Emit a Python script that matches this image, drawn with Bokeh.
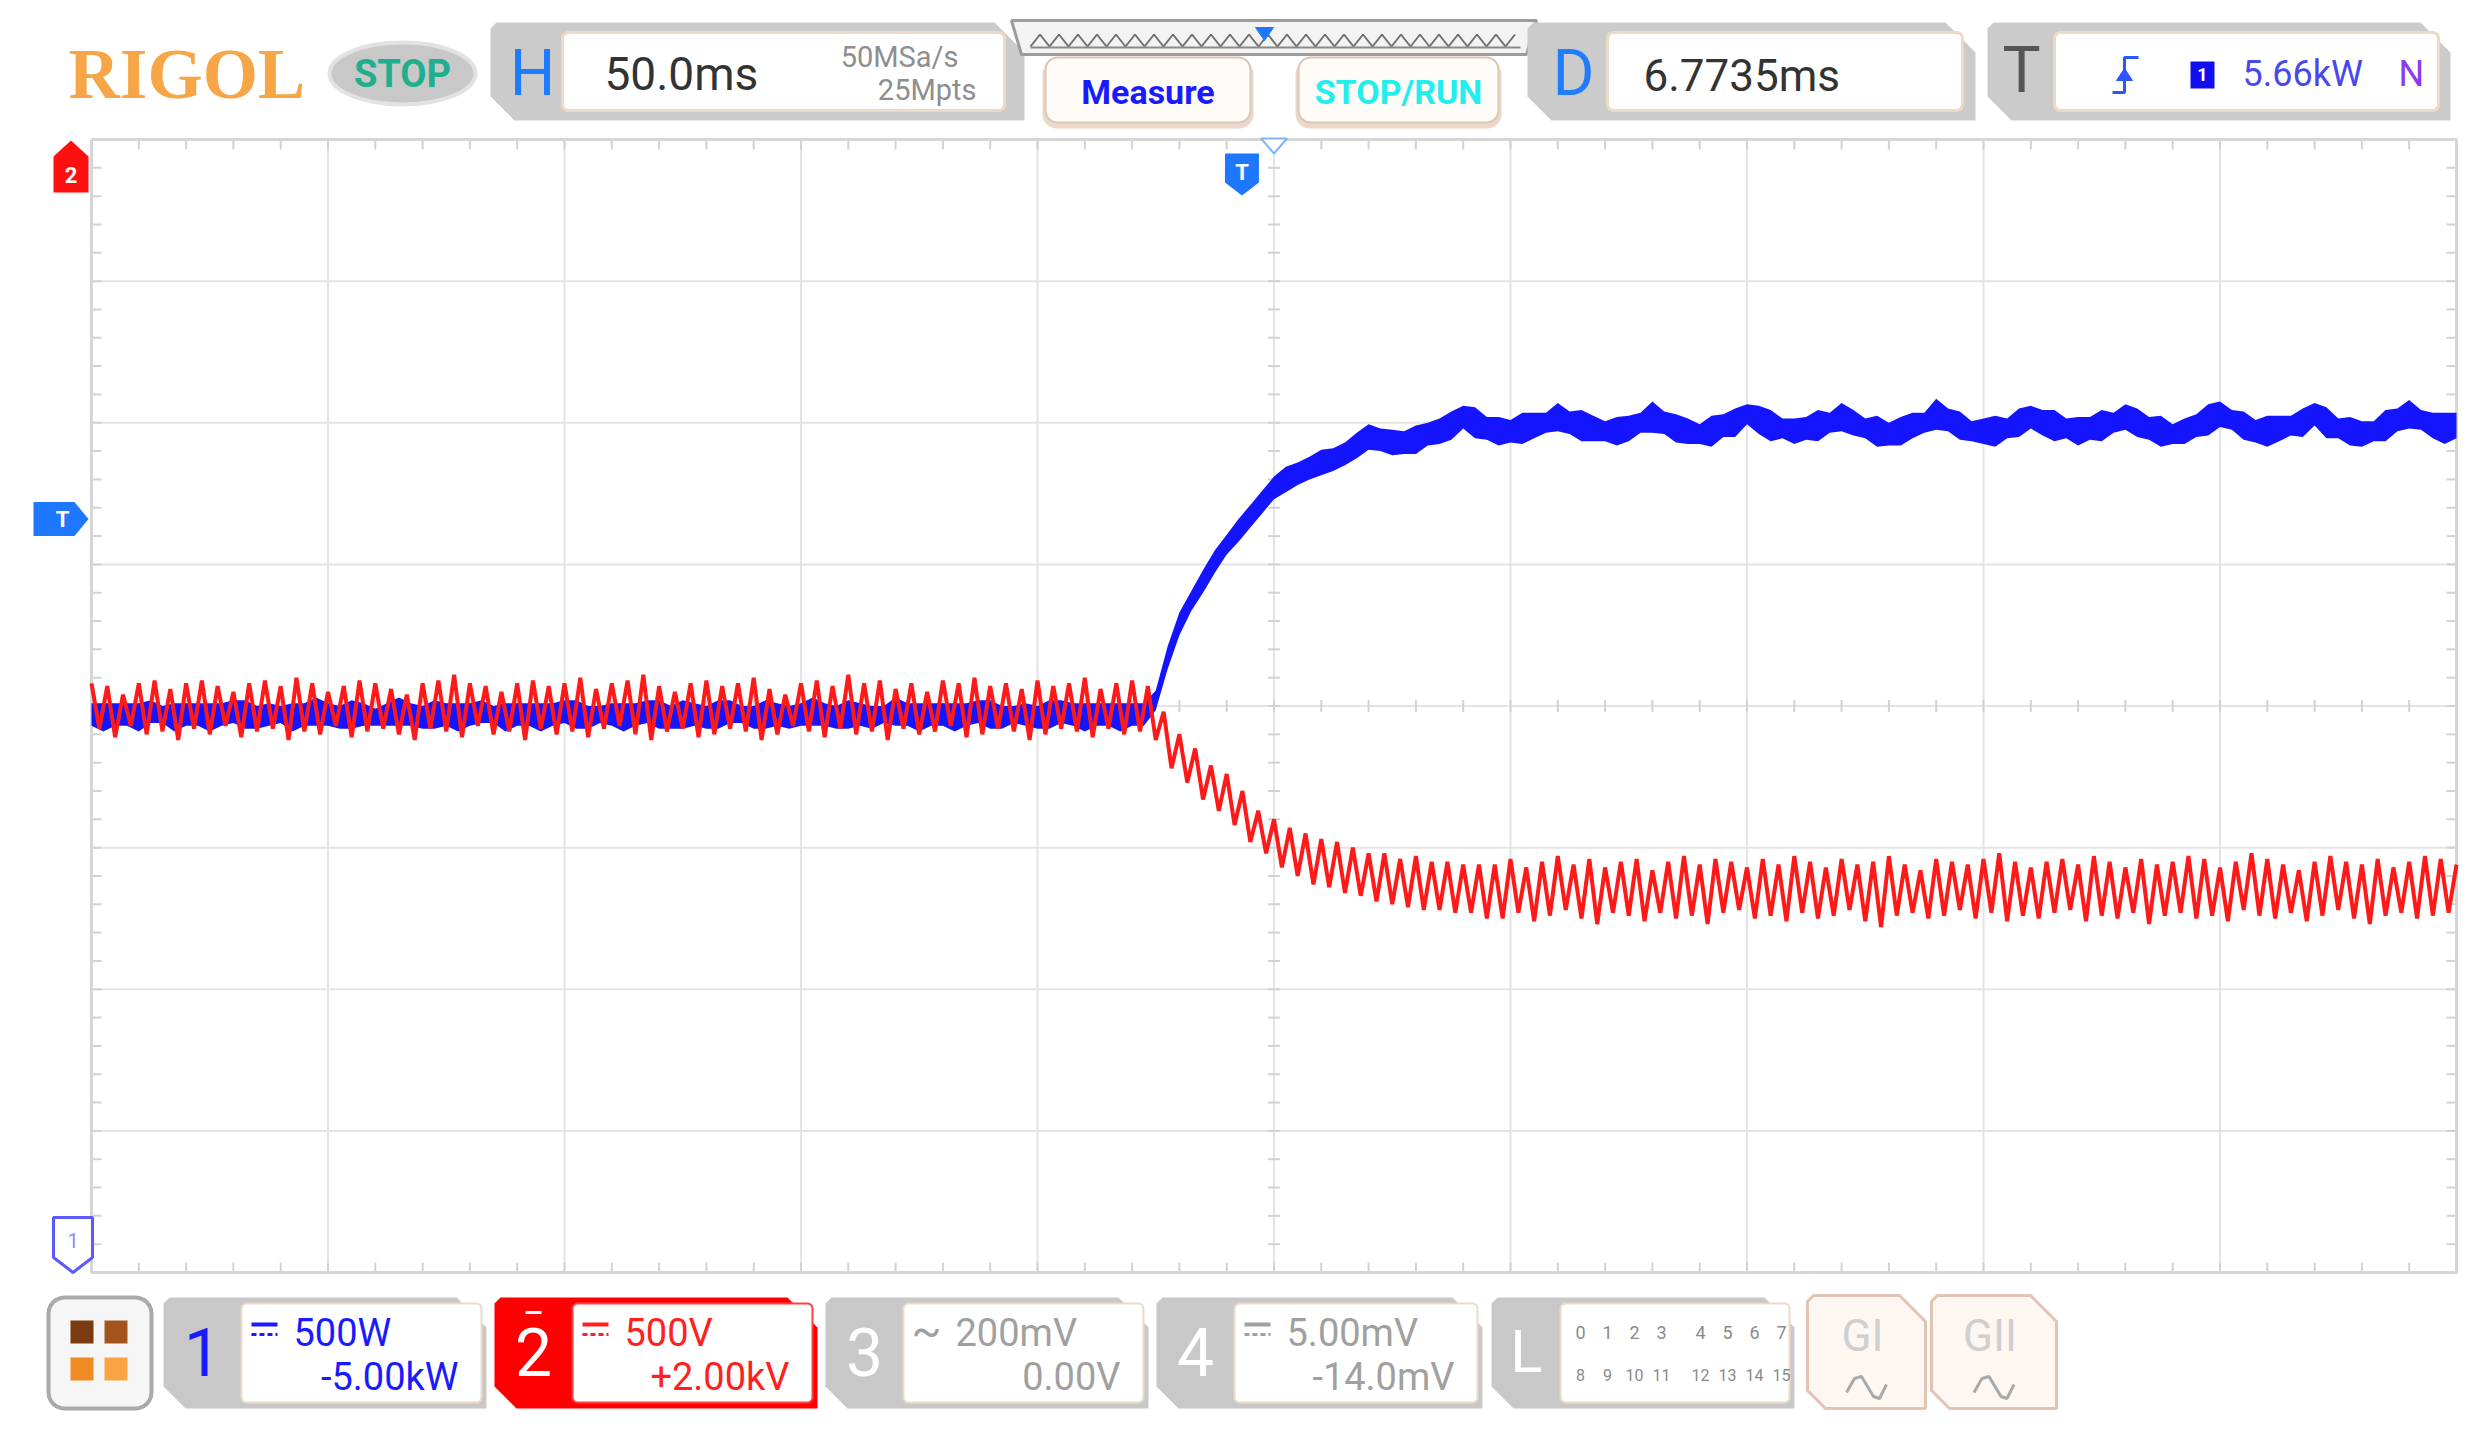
import numpy as np
from bokeh.plotting import figure
from bokeh.models import Range1d
from bokeh.core.properties import value
from bokeh.embed import file_html
from bokeh.resources import INLINE

# ---------------- instrument settings ----------------
time_per_div_ms = 50.0
h_divs = 10
v_divs = 8
delay_ms = 6.7735
ch1_scale_kw = 0.5        # 500 W/div
ch1_offset_kw = -5.00
ch2_scale_kv = 0.5        # 500 V/div, channel inverted
ch2_offset_kv = 2.00
trigger_level_kw = 5.66

# ---------------- channel 1 (blue): power in kW, sampled every 2.5 ms ----------------
blue_step_ms = 2.5
blue_mid_pre = [
    4.97, 4.96, 4.97, 4.97, 4.96, 4.98, 4.97, 4.96, 4.97, 4.97,
    4.96, 4.97, 4.98, 4.97, 4.96, 4.97, 4.97, 4.96, 4.97, 4.98,
    4.97, 4.96, 4.97, 4.97, 4.96, 4.97, 4.98, 4.97, 4.96, 4.97,
    4.97, 4.96, 4.97, 4.98, 4.97, 4.96, 4.97, 4.97, 4.96, 4.97,
    4.98, 4.97, 4.96, 4.97, 4.97, 4.96, 4.97, 4.98, 4.97, 4.96,
    4.97, 4.97, 4.96, 4.97, 4.98, 4.97, 4.96, 4.97, 4.97, 4.96,
    4.97, 4.98, 4.97, 4.96, 4.97, 4.97, 4.96, 4.97, 4.98, 4.97,
    4.96, 4.97, 4.97, 4.96, 4.97, 4.98, 4.97, 4.96, 4.97, 4.97,
    4.96, 4.97, 4.98, 4.97, 4.96, 4.97, 4.97, 4.96, 4.97, 4.97]
blue_mid_post = [
    5.02, 5.17, 5.29, 5.37, 5.44, 5.51, 5.57, 5.62, 5.67, 5.72,
    5.77, 5.80, 5.82, 5.84, 5.86, 5.87, 5.89, 5.92, 5.95, 5.94,
    5.93, 5.93, 5.94, 5.96, 5.97, 5.99,
    6.02, 6.00, 5.98, 5.97, 5.97, 5.98, 5.99, 6.00,
    6.02, 6.00, 5.99, 5.98, 5.97, 5.97, 5.98, 6.00,
    6.02, 6.00, 5.98, 5.97, 5.96, 5.97, 5.99, 6.00,
    6.03, 6.01, 5.99, 5.98, 5.97, 5.98, 5.99, 6.00,
    6.02, 6.00, 5.98, 5.97, 5.96, 5.97, 5.99, 6.00,
    6.03, 6.01, 5.99, 5.97, 5.97, 5.97, 5.98, 6.00,
    6.02, 6.00, 5.99, 5.98, 5.97, 5.98, 5.99, 6.00,
    6.02, 6.00, 5.98, 5.97, 5.96, 5.97, 5.99, 6.01,
    6.03, 6.01, 5.99, 5.97, 5.97, 5.98, 5.99, 6.00,
    6.03, 6.00, 5.98, 5.97, 5.96, 5.97, 5.99, 6.01,
    6.03, 6.01, 5.99, 5.98, 5.99]
blue_hw_pre = [
    0.04, 0.05, 0.04, 0.04, 0.05, 0.04, 0.03, 0.05, 0.04, 0.04,
    0.05, 0.04, 0.04, 0.05, 0.04, 0.04, 0.03, 0.05, 0.04, 0.05,
    0.04, 0.04, 0.05, 0.04, 0.03, 0.04, 0.05, 0.04, 0.04, 0.05,
    0.04, 0.05, 0.04, 0.04, 0.03, 0.05, 0.04, 0.04, 0.05, 0.04,
    0.04, 0.05, 0.04, 0.03, 0.04, 0.05, 0.04, 0.04, 0.05, 0.04,
    0.05, 0.04, 0.04, 0.05, 0.04, 0.03, 0.04, 0.05, 0.04, 0.04,
    0.04, 0.05, 0.04, 0.04, 0.05, 0.04, 0.04, 0.03, 0.05, 0.04,
    0.05, 0.04, 0.04, 0.05, 0.04, 0.04, 0.05, 0.04, 0.03, 0.04,
    0.04, 0.05, 0.04, 0.04, 0.05, 0.04, 0.04, 0.05, 0.04, 0.04]
blue_hw_post = [
    0.035, 0.04, 0.04, 0.035, 0.04, 0.04, 0.035, 0.04, 0.04, 0.04,
    0.04, 0.045, 0.04, 0.04, 0.045, 0.04, 0.04, 0.045, 0.045, 0.04,
    0.045, 0.04, 0.05, 0.04, 0.045, 0.05, 0.04, 0.055, 0.04, 0.05,
    0.04, 0.055, 0.045, 0.035, 0.05, 0.04, 0.055, 0.045, 0.035, 0.05,
    0.045, 0.035, 0.055, 0.04, 0.05, 0.045, 0.035, 0.055, 0.04, 0.05,
    0.035, 0.05, 0.055, 0.035, 0.045, 0.04, 0.055, 0.035, 0.05, 0.045,
    0.035, 0.055, 0.04, 0.05, 0.045, 0.035, 0.055, 0.04, 0.05, 0.035,
    0.045, 0.055, 0.035, 0.05, 0.04, 0.045, 0.055, 0.035, 0.05, 0.04,
    0.055, 0.035, 0.045, 0.05, 0.04, 0.055, 0.035, 0.045, 0.04, 0.055,
    0.045, 0.035, 0.05, 0.04, 0.055, 0.045, 0.035, 0.05, 0.04, 0.055,
    0.035, 0.05, 0.045, 0.035, 0.055, 0.04, 0.05, 0.035, 0.045, 0.055,
    0.045]

# ---------------- channel 2 (red): voltage in kV, 300 Hz ripple extremes ----------------
red_ripple_hz = 300.0
red_min_pre = [
    1.92, 1.93, 1.96, 1.92, 1.91, 1.94, 1.92, 1.91, 1.93, 1.95,
    1.92, 1.91, 1.93, 1.90, 1.92, 1.95, 1.93, 1.91, 1.92, 1.94,
    1.96, 1.92, 1.91, 1.89, 1.92, 1.93, 1.95, 1.92, 1.91, 1.93,
    1.92, 1.90, 1.94, 1.92, 1.91, 1.89, 1.93, 1.95, 1.92, 1.91,
    1.93, 1.92, 1.90, 1.94, 1.96, 1.92, 1.91, 1.93, 1.89, 1.92,
    1.91, 1.94, 1.92, 1.95, 1.91, 1.92, 1.90, 1.93, 1.92, 1.94,
    1.91, 1.93, 1.92, 1.90, 1.94, 1.92, 1.91, 1.93]
red_min_step = [
    2.02, 2.10, 2.15, 2.21, 2.24, 2.30, 2.37, 2.40, 2.43, 2.45,
    2.47, 2.48, 2.50, 2.52, 2.52, 2.54, 2.53, 2.55, 2.55, 2.56, 2.56]
red_min_post = [
    2.56, 2.54, 2.57, 2.55, 2.53, 2.56, 2.54, 2.57, 2.55, 2.54,
    2.58, 2.55, 2.53, 2.56, 2.54, 2.55, 2.57, 2.54, 2.56, 2.53,
    2.55, 2.57, 2.54, 2.56, 2.55, 2.53, 2.56, 2.58, 2.54, 2.55,
    2.56, 2.54, 2.52, 2.55, 2.57, 2.55, 2.54, 2.56, 2.53, 2.55,
    2.57, 2.54, 2.56, 2.55, 2.53, 2.54, 2.57, 2.55, 2.52, 2.54,
    2.56, 2.58, 2.55, 2.53, 2.55, 2.56, 2.54, 2.57, 2.55, 2.53,
    2.54, 2.56]
red_max_pre = [
    2.08, 2.11, 2.07, 2.10, 2.09, 2.12, 2.08, 2.10, 2.07, 2.11,
    2.09, 2.08, 2.12, 2.09, 2.10, 2.07, 2.11, 2.09, 2.08, 2.10,
    2.12, 2.08, 2.09, 2.11, 2.07, 2.10, 2.09, 2.12, 2.08, 2.10,
    2.09, 2.11, 2.08, 2.07, 2.10, 2.12, 2.09, 2.08, 2.11, 2.10,
    2.08, 2.09, 2.12, 2.10, 2.07, 2.09, 2.11, 2.08, 2.10, 2.09,
    2.12, 2.08, 2.10, 2.09, 2.07, 2.11, 2.10, 2.08, 2.09, 2.12,
    2.10, 2.08, 2.09, 2.11, 2.08, 2.10, 2.09, 2.12]
red_max_step = [
    2.22, 2.27, 2.33, 2.37, 2.42, 2.48, 2.52, 2.57, 2.60, 2.63,
    2.64, 2.66, 2.67, 2.69, 2.70, 2.71, 2.72, 2.72, 2.73, 2.73, 2.75]
red_max_post = [
    2.75, 2.73, 2.76, 2.74, 2.72, 2.75, 2.77, 2.73, 2.74, 2.76,
    2.73, 2.75, 2.74, 2.77, 2.73, 2.72, 2.75, 2.74, 2.76, 2.73,
    2.75, 2.74, 2.72, 2.76, 2.78, 2.74, 2.73, 2.75, 2.74, 2.72,
    2.75, 2.73, 2.76, 2.74, 2.75, 2.73, 2.72, 2.76, 2.74, 2.75,
    2.73, 2.77, 2.74, 2.73, 2.75, 2.74, 2.76, 2.72, 2.74, 2.75,
    2.73, 2.76, 2.74, 2.72, 2.75, 2.77, 2.74, 2.73, 2.75, 2.74,
    2.73]

# ---------------- screen texts ----------------
timebase_label = "50.0ms"
sample_rate_label = "50MSa/s"
memory_label = "25Mpts"
delay_label = "6.7735ms"
trigger_label = "5.66kW"
ch_scale_labels = ["500W", "500V", "200mV", "5.00mV"]
ch_offset_labels = ["-5.00kW", "+2.00kV", "0.00V", "-14.0mV"]

# ---------------- layout (screen pixels of the page photo) ----------------
W, H = 2476, 1414
GX0, GX1, GY0, GY1 = 91, 2456, 139, 1272
XC, YC = (GX0 + GX1) / 2, (GY0 + GY1) / 2
FONT = "Roboto"

ms_per_px = time_per_div_ms * h_divs / (GX1 - GX0)
t_left = delay_ms - time_per_div_ms * h_divs / 2
kw_per_px = ch1_scale_kw * v_divs / (GY1 - GY0)
kw_center = -ch1_offset_kw
kv_per_px = ch2_scale_kv * v_divs / (GY1 - GY0)
kv_center = ch2_offset_kv


def t_at(x):
    return t_left + (x - GX0) * ms_per_px


def kw_at(y):
    return kw_center + (YC - y) * kw_per_px


def kv_at(y):  # inverted channel: voltage grows downwards
    return kv_center + (y - YC) * kv_per_px


p = figure(width=W, height=H, x_range=Range1d(0, W), y_range=Range1d(H, 0),
           output_backend="svg", toolbar_location=None, min_border=0,
           x_axis_type=None, y_axis_type=None, outline_line_color=None,
           background_fill_color="white", border_fill_color="white")
p.grid.visible = False
p.extra_x_ranges = {"t": Range1d(t_at(0), t_at(W))}
p.extra_y_ranges = {"kw": Range1d(kw_at(H), kw_at(0)),
                    "kv": Range1d(kv_at(H), kv_at(0))}


def label(x, cy, s, size, color, align="left", style="normal", font=FONT):
    p.text(x=[x], y=[cy], text=[s], text_font=value(font), text_font_size=f"{size}px",
           text_color=color, text_align=align, text_baseline="middle",
           text_font_style=style)


def poly(pts, fill, line=None, lw=2):
    p.patch([a for a, b in pts], [b for a, b in pts], fill_color=fill,
            line_color=line, line_width=lw)


def rrect(x0, y0, x1, y1, r, n=7):
    pts = []
    for cx, cy, a0 in [(x1 - r, y0 + r, -90), (x1 - r, y1 - r, 0),
                       (x0 + r, y1 - r, 90), (x0 + r, y0 + r, 180)]:
        for a in np.linspace(a0, a0 + 90, n):
            pts.append((cx + r * np.cos(np.radians(a)), cy + r * np.sin(np.radians(a))))
    return pts


def chamfer(x0, y0, x1, y1, cl, cr):
    return [(x0 + 6, y0), (x1 - cr, y0), (x1, y0 + cr), (x1, y1), (x0 + cl, y1),
            (x0, y1 - cl), (x0, y0 + 6)]


# ---------------- graticule ----------------
for k in range(1, h_divs):
    x = GX0 + k * (GX1 - GX0) / h_divs
    p.line([x, x], [GY0, GY1], line_color="#e4e4e4", line_width=2)
for k in range(1, v_divs):
    y = GY0 + k * (GY1 - GY0) / v_divs
    p.line([GX0, GX1], [y, y], line_color="#e4e4e4", line_width=2)
tx = [GX0 + k * (GX1 - GX0) / (h_divs * 5) for k in range(1, h_divs * 5)]
ty = [GY0 + k * (GY1 - GY0) / (v_divs * 5) for k in range(1, v_divs * 5)]
tick_col = "#d2d2d2"
p.segment(x0=tx, y0=[GY0] * len(tx), x1=tx, y1=[GY0 + 10] * len(tx), line_color=tick_col, line_width=2)
p.segment(x0=tx, y0=[GY1 - 10] * len(tx), x1=tx, y1=[GY1] * len(tx), line_color=tick_col, line_width=2)
p.segment(x0=tx, y0=[YC - 6] * len(tx), x1=tx, y1=[YC + 6] * len(tx), line_color=tick_col, line_width=2)
p.segment(x0=[GX0] * len(ty), y0=ty, x1=[GX0 + 10] * len(ty), y1=ty, line_color=tick_col, line_width=2)
p.segment(x0=[GX1 - 10] * len(ty), y0=ty, x1=[GX1] * len(ty), y1=ty, line_color=tick_col, line_width=2)
p.segment(x0=[XC - 6] * len(ty), y0=ty, x1=[XC + 6] * len(ty), y1=ty, line_color=tick_col, line_width=2)
p.line([GX0, GX1, GX1, GX0, GX0], [GY0, GY0, GY1, GY1, GY0], line_color="#d6d6d6", line_width=3)

# ---------------- waveforms ----------------
blue_mid = np.array(blue_mid_pre + blue_mid_post)
blue_hw = np.array(blue_hw_pre + blue_hw_post)
t_blue = t_left + blue_step_ms * np.arange(len(blue_mid))
p.varea(x=t_blue, y1=blue_mid - blue_hw, y2=blue_mid + blue_hw, fill_color="#1414ff",
        x_range_name="t", y_range_name="kw")

red_min = red_min_pre + red_min_step + red_min_post
red_max = red_max_pre + red_max_step + red_max_post
red_v = np.empty(len(red_min) + len(red_max))
red_v[0::2] = red_min
red_v[1::2] = red_max
t_red = t_left + (1000.0 / red_ripple_hz / 2) * np.arange(len(red_v))
p.line(t_red, red_v, line_color="#ff1a1a", line_width=4, x_range_name="t", y_range_name="kv")

# ---------------- screen markers ----------------
poly([(53, 192), (53, 156), (70.5, 140), (88, 156), (88, 192)], "#ff1010")
label(70.5, 174, "2", 22, "white", align="center", style="bold")
y_trig = YC - (trigger_level_kw - kw_center) / kw_per_px
poly([(33, y_trig - 17), (74, y_trig - 17), (88, y_trig), (74, y_trig + 17), (33, y_trig + 17)], "#1e78ff")
label(62, y_trig, "T", 22, "white", align="center", style="bold")
poly([(53, 1217), (92, 1217), (92, 1257), (72.5, 1272), (53, 1257)], "white", "#5a5aff", 3)
label(72.5, 1240, "1", 20, "#8c8cff", align="center")
x_trig = GX0 + (0.0 - t_left) / ms_per_px
poly([(x_trig - 17, 153), (x_trig + 17, 153), (x_trig + 17, 182), (x_trig, 195), (x_trig - 17, 182)], "#1e78ff")
label(x_trig, 172, "T", 22, "white", align="center", style="bold")
poly([(XC - 13, 138), (XC + 13, 138), (XC, 153)], "white", "#7fb2ff", 2)

# ---------------- header ----------------
label(68, 73, "RIGOL", 71, "#f6a646", style="bold", font="Liberation Serif")
p.ellipse(x=[402], y=[73], width=146, height=62, fill_color="#c8c8c8", line_color="#e2e2e2", line_width=4)
label(402, 73, "STOP", 38, "#1fae8f", align="center", style="bold")

poly(chamfer(490, 22, 1024, 120, 24, 30), "#cbcbcb")
poly(rrect(562, 32, 1004, 110, 6), "white", "#ecdac9", 3)
label(532, 73, "H", 64, "#1e7cff", align="center")
label(604, 73, timebase_label, 46, "#333333")
label(958, 56, sample_rate_label, 29, "#8e8e8e", align="right")
label(976, 89, memory_label, 29, "#8e8e8e", align="right")

poly([(1011, 20), (1536, 20), (1526, 54), (1021, 54)], "#f3f3f3", "#9c9c9c", 3)
zz_x = np.arange(1030, 1522, 9.5)
zz_y = np.where(np.arange(len(zz_x)) % 2 == 0, 46, 34)
p.line(zz_x, zz_y, line_color="#707070", line_width=2)
p.line([1030, 1520], [47, 47], line_color="#8a8a8a", line_width=2)
poly([(1255, 27), (1273, 27), (1264, 40)], "#1e78ff", "#1e78ff", 1)

for (bx0, bx1, txt, col) in [(1042, 1253, "Measure", "#1a1aff"), (1295, 1501, "STOP/RUN", "#22eeee")]:
    poly(rrect(bx0, 60, bx1, 128, 14), "#ecd8c8")
    poly(rrect(bx0 + 3, 57, bx1 - 3, 122, 12), "#fffbf7", "#dcc6b6", 2)
    label((bx0 + bx1) / 2, 91, txt, 34, col, align="center", style="bold")

poly(chamfer(1527, 22, 1975, 120, 24, 30), "#cbcbcb")
poly(rrect(1607, 32, 1962, 110, 6), "white", "#ecdac9", 3)
label(1573, 73, "D", 64, "#1e7cff", align="center")
label(1643, 75, delay_label, 44, "#333333")

poly(chamfer(1987, 22, 2450, 120, 24, 30), "#cbcbcb")
poly(rrect(2054, 32, 2438, 110, 6), "white", "#ecdac9", 3)
label(2021, 70, "T", 64, "#555555", align="center")
p.line([2112, 2124, 2124, 2138], [92, 92, 57, 57], line_color="#2a55ff", line_width=3)
poly([(2116, 80), (2132, 80), (2124, 68)], "#2a55ff", "#2a55ff", 1)
poly([(2190, 61), (2214, 61), (2214, 88), (2190, 88)], "#1010ee")
label(2202, 74, "1", 18, "white", align="center", style="bold")
label(2242, 73, trigger_label, 36, "#4848ee")
label(2398, 73, "N", 36, "#8a3cf0")

# ---------------- footer ----------------
poly(rrect(48, 1297, 151, 1408, 16), "#f6f6f6", "#a9a9a9", 4)
for (sx0, sy0, c) in [(70, 1320, "#7c3a10"), (104, 1320, "#a3541c"),
                      (70, 1357, "#f08a24"), (104, 1357, "#f8a444")]:
    poly([(sx0, sy0), (sx0 + 23, sy0), (sx0 + 23, sy0 + 23), (sx0, sy0 + 23)], c)

panels = [(163, 486, "1", "#1a1aff", "#c8c8c8", "#1a1aff", "dc"),
          (494, 817, "2", "white", "#ff0000", "#ff2020", "dc"),
          (825, 1148, "3", "white", "#c8c8c8", "#a0a0a0", "ac"),
          (1156, 1482, "4", "white", "#c8c8c8", "#a0a0a0", "dc")]
for i, (x0, x1, num, numcol, tabcol, txtcol, coup) in enumerate(panels):
    poly(chamfer(x0, 1297, x1, 1408, 22, 30), tabcol)
    ix0 = x0 + 78
    poly(rrect(ix0, 1303, x1 - 5, 1402, 5), "white", "#ecdac9" if i != 1 else "#ff4040", 2)
    label(x0 + 39, 1351, num, 66, numcol, align="center")
    if i == 1:
        p.line([x0 + 31, x0 + 47], [1312, 1312], line_color="white", line_width=3)
    if coup == "dc":
        p.line([ix0 + 10, ix0 + 36], [1324, 1324], line_color=txtcol, line_width=4)
        p.line([ix0 + 10, ix0 + 36], [1334, 1334], line_color=txtcol, line_width=3, line_dash="5 3")
    else:
        label(ix0 + 8, 1330, "~", 44, txtcol)
    label(ix0 + 52, 1332, ch_scale_labels[i], 38, txtcol)
    label(x1 - 28, 1376, ch_offset_labels[i], 38, txtcol, align="right")

poly(chamfer(1491, 1297, 1794, 1408, 22, 30), "#c8c8c8")
poly(rrect(1560, 1303, 1789, 1402, 5), "white", "#ecdac9", 2)
label(1526, 1351, "L", 60, "white", align="center")
for k in range(8):
    label(1580 + k * 27 + (12 if k > 3 else 0), 1332, str(k), 18, "#8a8a8a", align="center")
for k in range(8):
    label(1580 + k * 27 + (12 if k > 3 else 0), 1374, str(k + 8), 16, "#8a8a8a", align="center")

for (x0, x1, name) in [(1807, 1925, "GI"), (1931, 2056, "GII")]:
    poly(chamfer(x0, 1295, x1, 1408, 18, 26), "#fdf6f1", "#e2c4b4", 3)
    cx = (x0 + x1) / 2
    label(cx - 4, 1335, name, 44, "#cfcfcf", align="center")
    p.line([cx - 20, cx - 12, cx - 5, cx + 1, cx + 7, cx + 13, cx + 20],
           [1392, 1378, 1376, 1386, 1396, 1398, 1384], line_color="#a9a9a9", line_width=3)

open("out.html", "w").write(file_html(p, INLINE))
